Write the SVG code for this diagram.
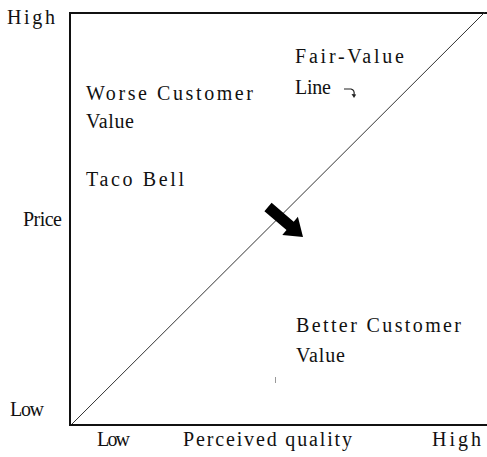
<svg xmlns="http://www.w3.org/2000/svg" width="487" height="457" viewBox="0 0 487 457">
  <style>
    .lbl { font-family: "Liberation Serif", "DejaVu Serif", serif; font-size: 20px; fill: #111; }
    .axis { stroke: #111; stroke-width: 2; fill: none; }
    .fair { stroke: #333; stroke-width: 1; fill: none; }
  </style>
  <rect width="487" height="457" fill="#fff"/>

  <!-- frame of the chart -->
  <g id="frame">
    <path class="axis" d="M487,13 H70 V425 H487"/>
  </g>

  <!-- axis labels -->
  <g id="axis-labels">
    <text class="lbl" x="7" y="24" textLength="48" lengthAdjust="spacing">High</text>
    <text class="lbl" x="23" y="226" textLength="39" lengthAdjust="spacing">Price</text>
    <text class="lbl" x="10" y="416" textLength="34" lengthAdjust="spacing">Low</text>
    <text class="lbl" x="97" y="446" textLength="33" lengthAdjust="spacing">Low</text>
    <text class="lbl" x="183" y="446" textLength="169" lengthAdjust="spacing">Perceived quality</text>
    <text class="lbl" x="432" y="446" textLength="49" lengthAdjust="spacing">High</text>
  </g>

  <!-- connectors: fair-value diagonal and the shift arrow -->
  <g id="connectors">
    <line class="fair" x1="72" y1="424" x2="485" y2="12"/>
    <polygon fill="#000" points="264.4,211.2 271.6,202.8 293.7,221.7 297.9,216.8 303,237 282.3,235 286.5,230.1"/>
    <path d="M344,89 H351 Q355,90 354,95" stroke="#222" stroke-width="1.2" fill="none"/>
    <path d="M351.5,94 L354,98 L356.2,94.5 Z" fill="#222"/>
    <line x1="275.5" y1="377" x2="275.5" y2="383" stroke="#999" stroke-width="1"/>
  </g>

  <g id="fair-value-label">
    <text class="lbl" x="295" y="63" textLength="109" lengthAdjust="spacing">Fair-Value</text>
    <text class="lbl" x="295" y="94" textLength="36" lengthAdjust="spacing">Line</text>
  </g>

  <g id="worse-value">
    <text class="lbl" x="86" y="100" textLength="167" lengthAdjust="spacing">Worse Customer</text>
    <text class="lbl" x="86" y="128" textLength="48" lengthAdjust="spacing">Value</text>
  </g>

  <g id="taco-bell">
    <text class="lbl" x="86" y="186" textLength="98" lengthAdjust="spacing">Taco Bell</text>
  </g>

  <g id="better-value">
    <text class="lbl" x="296" y="332" textLength="165" lengthAdjust="spacing">Better Customer</text>
    <text class="lbl" x="296" y="362" textLength="49" lengthAdjust="spacing">Value</text>
  </g>
</svg>
